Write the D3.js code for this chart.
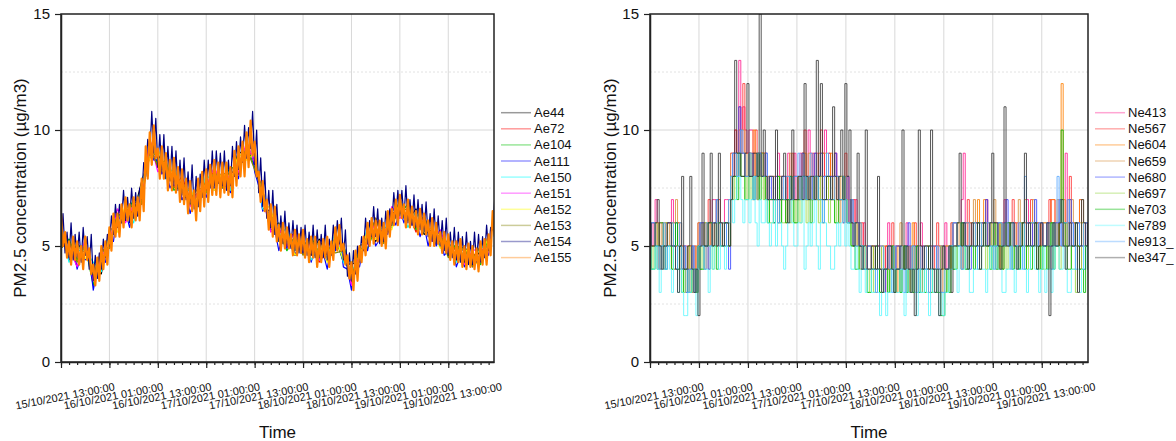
<!DOCTYPE html>
<html>
<head>
<meta charset="utf-8">
<script src="https://cdn.jsdelivr.net/npm/d3@7"></script>
<style>
	body { margin: 0; background: #fff; }
	svg { display: block; font-family: "Liberation Sans", Arial, sans-serif; }
</style>
</head>
<body>
<svg id="chart" width="1176" height="441"></svg>
<script>
// time axis
const startTime = "15/10/2021 13:00:00";
const endTime = "20/10/2021 00:20:00";
const tickLabels = ["15/10/2021 13:00:00", "16/10/2021 01:00:00", "16/10/2021 13:00:00", "17/10/2021 01:00:00",
	"17/10/2021 13:00:00", "18/10/2021 01:00:00", "18/10/2021 13:00:00", "19/10/2021 01:00:00", "19/10/2021 13:00:00"];
const yTicks = [0, 5, 10, 15];
const yMinorGrid = [2.5, 7.5, 12.5];

// left panel, Ae sensors (minutes between samples in aeStep)
const aeNames = ["Ae44", "Ae72", "Ae104", "Ae111", "Ae150", "Ae151", "Ae152", "Ae153", "Ae154", "Ae155"];
const aeColors = ["#000000", "#ff0000", "#00c000", "#0000ff", "#00ffff", "#ff00ff", "#ffff00", "#808000", "#000080", "#ff8000"];
const aeStep = [120, 120, 120, 60, 120, 120, 120, 120, 30, 30];
const ae44 = [5.7,4.4,5.1,4.7,3.9,3.8,5.7,5.8,6.6,6.4, 7.8,8.8,9.0,8.1,8.3,7.0,7.2,6.7,7.9,7.5, 8.2,7.8,9.1,8.8,9.0,6.6,6.5,5.3,5.4,4.6, 5.3,4.6,5.3,4.6,5.4,4.3,4.2,4.4,5.7,5.2, 5.6,5.9,7.0,6.1,6.6,5.5,5.7,5.2,5.2,4.4, 5.0,4.3,4.8,4.7];
const ae72 = [5.1,5.2,4.1,5.1,3.7,4.8,4.9,6.4,6.2,6.6, 6.8,9.6,8.4,8.5,7.5,8.0,7.0,7.3,7.5,8.3, 7.6,8.0,8.1,9.4,8.6,7.4,5.7,5.7,5.2,5.6, 4.7,5.2,4.3,4.8,5.0,5.1,3.4,4.8,5.1,6.2, 5.4,6.5,6.2,6.5,5.6,6.3,5.3,5.4,4.6,5.0, 4.2,4.7,4.4,5.5];
const ae104 = [5.0,5.3,4.4,5.0,3.3,4.7,5.0,6.3,6.3,7.0, 6.9,9.5,8.5,8.7,7.4,7.6,6.8,7.2,7.3,8.2, 7.8,8.4,8.3,9.3,8.4,7.4,5.9,5.6,4.8,5.4, 4.7,5.4,4.7,4.9,4.8,5.1,3.6,4.9,4.9,5.8, 5.2,6.6,6.4,6.8,5.7,6.1,5.4,5.6,4.6,5.1, 4.4,4.7,4.2,5.4];
const ae111 = [4.9,5.1,4.4,5.0,4.0,4.6,4.4,4.6,3.1,4.0, 4.5,4.3,5.2,5.2,6.4,6.0,6.5,5.8,6.5,6.3, 7.5,8.0,9.5,8.7,8.7,8.1,8.4,7.5,7.8,8.0, 7.0,7.3,6.4,7.0,6.7,7.6,7.1,7.8,7.4,8.3, 7.5,7.6,7.3,8.4,7.9,9.1,8.8,9.6,8.2,7.6, 6.5,6.8,5.7,5.7,4.8,5.5,4.9,5.4,4.6,5.0, 4.7,5.2,4.3,4.9,4.4,4.7,4.0,5.1,4.8,5.5, 4.1,4.0,3.1,4.4,4.1,5.1,4.8,5.8,5.0,5.3, 5.7,5.5,6.3,5.9,6.6,6.0,6.6,5.9,6.2,5.4, 5.9,5.0,5.7,5.0,5.4,4.6,4.8,5.0,4.1,4.6, 4.1,4.8,4.1,4.7,4.3,5.0,4.6,6.0];
const ae150 = [5.8,4.3,4.8,4.8,4.3,3.9,5.6,5.9,6.5,6.0, 7.7,8.9,8.9,7.9,8.4,7.4,7.4,6.8,8.1,7.6, 8.0,7.4,8.9,8.9,9.2,6.6,6.3,5.4,5.8,4.8, 5.3,4.4,4.9,4.5,5.6,4.3,4.0,4.3,5.9,5.6, 5.8,5.8,6.8,5.8,6.5,5.7,5.6,5.0,5.2,4.3, 4.8,4.3,5.0,4.8];
const ae151 = [5.2,4.9,4.1,5.3,3.5,4.5,5.2,6.6,6.0,6.8, 7.1,9.6,8.2,8.4,7.6,7.7,6.7,7.3,7.6,8.4, 7.6,8.1,8.2,9.5,8.6,7.1,5.6,5.8,5.0,5.6, 4.9,5.1,4.4,5.1,5.0,5.0,3.3,4.7,5.1,6.1, 5.3,6.7,6.2,6.5,6.0,6.2,5.2,5.7,4.7,4.9, 4.2,4.8,4.9,4.7];
const ae152 = [5.6,4.7,5.1,4.5,4.1,4.1,5.4,5.6,6.8,6.2, 7.5,8.8,9.2,8.2,8.2,7.3,7.5,6.7,7.8,7.4, 8.2,7.7,9.0,8.7,9.0,6.9,6.6,5.2,5.6,4.6, 5.1,4.7,5.2,4.3,5.4,4.4,4.3,4.5,5.7,5.3, 5.7,5.7,7.0,6.1,6.2,5.6,5.8,4.9,5.1,4.5, 5.0,4.2,4.3,5.5];
const ae153 = [4.9,5.2,4.3,5.1,3.7,4.8,4.9,6.4,6.2,6.9, 6.8,9.3,8.4,8.5,7.5,7.8,7.0,7.5,7.4,8.1, 7.5,8.3,8.4,9.2,8.3,7.3,5.8,6.0,5.2,5.3, 4.6,5.3,4.6,5.0,4.7,4.8,3.5,5.0,5.2,6.2, 5.1,6.4,6.5,6.6,5.8,6.3,5.3,5.5,4.5,5.0, 4.9,4.1,5.1,4.9];
const ae154 = [5.1,6.4, 4.7,5.6, 4.5,6.0, 4.4,5.5, 4.5,5.6, 4.3,5.8, 4.6,5.4, 4.0,5.5, 3.5,4.6, 3.6,4.7,
	4.0,5.3, 4.5,5.5, 5.0,6.3, 5.5,6.8, 5.8,6.8, 6.0,7.4, 6.1,7.1, 6.0,7.5, 6.2,7.3, 6.3,7.5,
	7.0,8.6, 8.2,9.6, 8.9,10.8, 9.0,10.5, 8.4,9.8, 8.2,9.8, 7.9,9.3, 7.8,9.3, 7.6,9.1, 7.4,8.7,
	7.2,8.8, 7.0,8.2, 6.8,8.5, 6.6,8.0, 6.7,8.1, 7.1,8.7, 7.4,8.7, 7.5,9.1, 7.6,9.1, 7.7,9.0,
	7.6,9.1, 7.4,8.7, 7.6,9.3, 8.0,9.5, 8.3,9.7, 8.6,10.2, 8.8,10.1, 9.2,10.8, 8.5,10.0, 7.3,8.8,
	6.7,8.2, 6.2,7.4, 5.8,7.4, 5.5,6.8, 5.2,6.3, 5.1,6.5, 5.0,6.0, 4.9,6.1, 4.8,5.9, 4.7,5.8,
	4.7,5.9, 4.6,5.6, 4.6,5.9, 4.5,5.7, 4.5,5.5, 4.5,5.9, 4.4,5.3, 4.6,5.9, 4.9,6.1, 5.1,6.2,
	4.4,5.7, 3.7,4.7, 3.5,4.8, 3.8,5.0, 4.3,5.4, 4.8,6.2, 5.1,6.1, 5.4,6.7, 5.4,6.6, 5.1,6.2,
	5.2,6.5, 5.6,6.6, 5.9,7.3, 6.2,7.4, 6.3,7.4, 6.2,7.6, 6.0,7.0, 5.9,7.2, 5.8,7.0, 5.7,6.8,
	5.6,6.9, 5.4,6.4, 5.2,6.6, 5.1,6.3, 5.0,6.1, 4.8,6.2, 4.6,5.6, 4.5,5.8, 4.4,5.6, 4.3,5.4,
	4.3,5.6, 4.2,5.2, 4.2,5.6, 4.3,5.5, 4.3,5.4, 4.5,5.9, 4.8,5.8, 5.7,7.0];
const ae155 = [6.4,5.0, 5.6,4.5, 5.2,4.2, 5.4,4.4, 5.2,4.2, 5.0,4.0, 5.4,4.4, 4.9,3.8, 4.2,3.3, 4.5,3.5,
	5.0,4.0, 5.2,4.2, 5.8,4.8, 6.4,5.4, 6.4,5.4, 6.8,5.8, 7.1,6.1, 6.8,5.8, 7.1,6.1, 7.1,6.1,
	7.9,6.5, 9.3,7.9, 9.9,8.5, 10.2,8.8, 9.2,7.9, 9.3,7.9, 9.0,7.4, 8.7,7.4, 8.8,7.3, 8.4,6.9,
	8.3,6.8, 7.9,6.4, 7.8,6.5, 7.4,6.1, 7.9,6.5, 8.2,6.7, 8.3,6.9, 8.5,7.2, 8.7,7.2, 8.6,7.1,
	8.6,7.3, 8.6,7.2, 8.4,7.1, 9.1,7.6, 9.3,8.0, 9.5,8.0, 9.9,8.4, 10.4,8.9, 9.5,8.0, 8.2,6.9,
	7.8,6.5, 7.0,5.7, 6.8,5.4, 6.7,5.2, 5.9,4.8, 6.0,4.9, 5.8,4.9, 5.5,4.6, 5.7,4.6, 5.5,4.7,
	5.7,4.5, 5.3,4.3, 5.4,4.5, 5.4,4.1, 5.2,4.3, 5.3,4.5, 5.4,4.1, 5.2,4.4, 5.8,4.8, 5.9,4.8,
	5.1,4.2, 4.6,3.6, 4.3,3.1, 4.8,3.5, 5.0,4.3, 5.4,4.6, 6.0,5.0, 6.2,5.1, 6.1,5.2, 6.1,5.0,
	6.0,4.9, 6.5,5.4, 6.6,5.9, 7.0,5.9, 7.2,6.2, 6.8,5.8, 7.0,5.8, 6.7,5.8, 6.5,5.5, 6.6,5.5,
	6.4,5.5, 6.1,5.0, 6.2,5.0, 6.0,5.1, 5.6,4.7, 5.6,4.7, 5.5,4.4, 5.2,4.2, 5.2,4.3, 5.3,4.1,
	5.0,4.0, 5.1,4.1, 5.0,4.0, 4.9,3.9, 5.2,4.2, 5.3,4.2, 5.5,4.6, 6.5,5.4];

// right panel, Ne sensors, half-hourly integer readings
const neNames = ["Ne413", "Ne567", "Ne604", "Ne659", "Ne680", "Ne697", "Ne703", "Ne789", "Ne913_", "Ne347_"];
const neColors = ["#ff2090", "#ff3030", "#ff8000", "#d89040", "#3848ff", "#98d848", "#00b800", "#60f8ff", "#58a8ff", "#383838"];
const neStep = 30;
const ne413 = [6,5,6,7,5,6,6,5,5,6,6,7,6,5,5,4,4,5,5,4,4,3,5,4, 5,6,6,5,5,6,6,7,7,6,6,5,6,7,7,6,
	9,8,10,9,13,10,11,10,9,10,10,9,8,9,9,8,8,9, 8,7,7,8,8,9,7,8,8,7,9,8,
	8,9,7,8,9,8,8,7,10,9,8,9,9,8,8,7,10,8,9,8,8,9,7,8,8,7,7,8, 7,6,6,7,6,5,5,6,
	5,4,4,5,5,4,4,5,5,4,5,6,4,5,5,4,4,3,5,4,6,5,4,5,5,4,5,6,4,5,5,4,5,4,4,5,5,4,5,6,4,5,
	6,5,5,6,6,7,9,6,6,5,5,6,6,5,5,6,6,7,6,5,5,6,6,5,5,6,7,6,6,5,5,6,6,5,5,6,6,7,6,5,5,6,6,5,
	6,5,5,6,6,7,7,6,6,5,5,6,9,6,6,5,5,6,6,7,5,6,6,5];
const ne567 = [6,5,5,6,6,5,5,4,6,5,5,6,4,5,6,5,5,4,4,5,5,4,4,3, 6,5,5,6,6,7,5,6,6,5,7,6,5,6,6,5,
	8,9,10,9,11,9,12,9,9,8,8,9,10,9,8,9,9,8, 7,8,8,7,7,8,8,7,7,6,8,7,
	9,8,8,7,8,9,10,8,8,7,9,8,7,8,10,9,8,7,9,8,8,9,8,7,7,8,9,8, 6,7,7,6,5,6,6,5,
	4,5,5,4,4,5,5,4,4,3,5,4,5,6,4,5,5,4,4,5,5,4,4,3,6,5,4,5,5,4,4,5,5,4,5,6,4,5,5,4,4,5,
	5,6,6,5,5,4,6,5,7,6,5,6,6,5,5,6,6,7,5,6,6,5,5,4,6,5,5,6,6,5,7,6,5,6,6,5,5,6,6,7,5,6,6,5,
	6,5,5,6,7,6,6,5,5,6,6,5,6,7,8,6,6,5,5,4,6,5,5,6];
const ne604 = [5,6,6,5,5,4,5,6,6,5,5,6,5,4,6,5,4,5,4,3,5,4,4,5, 5,6,5,4,6,5,5,6,6,7,6,5,5,6,6,5,
	8,9,9,8,10,9,9,8,8,9,9,10,8,7,8,9,9,8, 7,8,8,7,7,6,7,8,8,7,7,8,
	8,7,7,8,8,9,9,8,7,8,8,7,8,9,9,8,8,7,8,9,7,8,8,7,7,6,8,7, 6,7,6,5,5,6,5,4,
	5,4,4,5,4,3,5,4,4,5,5,4,4,5,4,3,5,4,4,5,5,4,5,6,4,5,5,4,4,5,4,3,5,4,4,5,5,4,4,5,5,4,
	5,6,6,5,5,4,5,6,6,5,5,6,6,7,5,6,7,6,5,6,6,5,5,4,6,5,5,6,5,6,6,5,5,4,6,5,7,6,5,6,6,5,5,6,
	5,6,6,5,6,7,7,6,5,6,12,7,6,5,7,6,6,5,6,7,5,6,6,5];
const ne659 = [6,5,5,6,5,4,6,5,5,6,5,4,6,7,5,6,5,4,4,5,4,3,5,4, 6,5,5,6,5,4,6,5,6,7,5,6,6,5,6,7,
	9,8,8,9,9,10,10,9,8,9,8,7,9,8,8,9,8,7, 8,7,7,8,7,6,8,7,7,8,8,9,
	7,8,8,7,8,9,8,7,9,8,7,8,8,7,8,9,9,8,8,7,7,8,7,6,8,7,7,8, 7,6,6,5,5,6,5,4,
	4,5,5,4,4,5,4,3,5,4,4,5,5,4,4,5,5,6,4,5,4,3,5,4,4,5,5,4,4,5,5,4,4,5,5,4,4,3,4,5,5,4,
	6,5,5,6,5,4,6,5,5,6,6,7,5,6,6,5,5,6,6,5,6,7,5,6,5,4,6,5,5,6,6,5,6,7,5,6,6,5,5,6,7,6,6,5,
	5,6,6,5,5,4,6,5,7,6,6,5,5,6,6,7,6,5,5,6,7,6,6,5];
const ne680 = [5,6,6,5,4,5,5,4,5,6,6,5,5,6,4,5,4,5,3,4,4,5,4,3, 5,6,6,5,5,4,5,6,6,7,6,5,5,6,5,4,
	8,9,9,8,11,9,9,8,8,9,9,8,8,7,9,8,8,9, 7,8,7,6,8,7,7,8,8,7,7,8,
	7,8,8,7,8,9,7,8,8,7,8,9,7,8,9,8,8,7,7,8,8,9,8,7,7,6,7,8, 6,7,5,6,6,5,5,4,
	4,5,5,4,4,5,5,4,4,3,4,5,5,4,4,5,5,4,4,5,5,6,4,5,5,4,4,3,5,4,4,5,4,5,5,4,4,5,5,4,4,5,
	5,6,6,5,5,6,6,5,5,4,5,6,6,5,5,6,6,7,5,6,6,5,5,6,6,5,6,7,5,6,6,5,5,4,6,5,5,6,6,5,6,7,5,6,
	6,5,5,6,6,5,5,6,6,7,5,6,6,5,7,6,5,6,6,5,5,4,6,5];
const ne697 = [5,4,5,6,4,5,5,4,6,5,5,6,4,5,5,4,4,3,4,5,3,4,4,3, 5,4,5,6,6,5,5,4,5,6,6,5,6,5,5,6,
	8,7,8,9,9,8,8,7,8,9,7,8,8,7,8,9,7,8, 7,6,6,7,7,8,7,6,6,7,7,6,
	7,6,7,8,6,7,7,6,8,7,7,8,7,6,8,7,7,8,6,7,7,6,7,8,8,7,7,6, 6,5,5,6,5,4,4,5,
	4,3,4,5,3,4,4,3,5,4,4,3,4,5,3,4,4,3,5,4,4,3,4,5,3,4,4,3,4,5,5,4,4,3,3,4,4,5,4,3,4,5,
	5,4,5,6,6,5,5,4,4,5,5,6,5,4,6,5,5,4,5,6,4,5,5,4,6,5,5,4,5,6,4,5,5,4,6,5,5,4,5,6,6,5,5,4,
	5,4,4,5,5,6,6,5,5,4,5,6,6,5,5,4,4,3,5,4,6,5,5,4];
const ne703 = [5,4,4,5,5,6,6,5,4,5,5,4,5,6,4,5,3,4,4,3,3,4,4,3, 5,4,4,5,5,6,6,5,5,4,6,5,5,6,6,5,
	7,8,8,7,9,8,8,7,7,8,8,7,8,9,7,8,8,7, 6,7,7,6,7,8,6,7,7,6,7,8,
	7,6,6,7,7,8,8,7,7,6,7,8,8,7,7,6,7,8,8,7,7,6,6,7,7,8,7,6, 6,5,5,4,4,5,5,4,
	4,3,3,4,4,5,4,3,3,4,4,3,4,5,3,4,4,3,4,5,3,4,4,3,4,5,3,4,4,3,4,5,3,4,4,3,3,2,2,3,4,3,
	5,4,4,5,5,6,5,4,4,5,5,4,5,6,4,5,6,5,5,4,5,6,4,5,5,4,5,6,6,5,4,5,5,4,5,6,4,5,5,4,5,6,4,5,
	4,5,5,4,5,6,4,5,5,6,10,6,5,4,4,5,5,6,5,4,4,3,5,4];
const ne789 = [5,4,4,5,4,3,5,4,4,5,4,3,5,4,3,4,3,2,2,3,3,4,3,2, 4,5,5,4,4,3,5,4,5,6,4,5,5,4,5,6,
	7,6,7,8,8,7,6,7,7,6,7,8,6,5,7,6,6,7, 6,5,6,7,5,6,6,5,4,5,6,7,
	6,5,5,6,6,7,4,5,6,5,6,7,5,4,6,7,6,5,5,4,4,5,6,5,6,7,5,6, 5,4,4,5,4,3,4,5,
	3,4,4,3,3,4,3,2,4,3,2,3,3,4,4,3,3,4,3,2,4,3,3,4,3,2,4,3,3,4,3,2,4,3,3,4,2,3,2,3,3,4,
	4,5,4,3,5,4,4,5,4,3,3,4,4,5,5,4,4,3,4,5,4,5,5,4,4,3,3,4,4,5,4,3,5,4,4,5,4,3,4,5,5,4,4,3,
	4,5,3,4,4,3,4,5,5,4,4,5,4,3,3,4,4,5,4,3,4,5,5,4];
const ne913 = [5,6,6,5,5,4,5,6,4,5,5,6,5,4,5,6,4,5,4,3,4,5,3,4, 5,6,5,4,6,5,5,6,6,7,5,6,6,5,6,7,
	8,9,9,8,9,10,9,8,8,9,8,7,8,9,9,8,8,9, 7,8,8,7,7,6,7,8,7,8,8,7,
	7,8,8,9,7,8,8,7,8,9,7,8,8,7,7,6,8,9,8,7,7,8,8,7,7,8,7,6, 6,7,6,5,5,6,5,4,
	4,5,5,4,4,3,4,5,5,4,4,5,4,3,5,4,4,5,4,3,5,4,4,5,4,3,5,4,4,5,4,3,5,4,4,5,4,3,3,4,4,5,
	5,6,6,5,5,4,5,6,6,5,5,6,5,4,6,5,5,6,6,5,5,4,5,6,6,5,5,6,5,4,6,5,5,6,5,4,8,6,5,6,6,5,5,6,
	6,5,5,6,5,4,6,5,8,6,5,6,6,7,5,6,5,4,6,5,5,6,6,5];
const ne347 = [6,5,5,6,7,5,4,5,5,6,6,5,5,4,3,5,8,4,4,5,8,4,3,4, 2,5,9,5,5,6,9,5,6,5,9,6,5,6,6,5,
	7,8,13,9,9,8,8,9,12,8,8,9,9,8,15,8,10,8, 7,8,8,7,10,7,7,8,9,7,6,7,
	10,7,7,8,8,7,12,8,7,8,8,7,13,8,12,7,7,8,8,7,11,8,7,8,10,7,12,8, 10,6,5,6,9,5,4,5,
	10,4,4,5,5,4,8,4,3,4,4,5,5,4,3,4,4,5,10,4,5,4,3,4,2,4,10,5,4,5,5,4,10,4,3,4,2,4,5,4,4,5,
	3,5,5,6,9,5,6,5,4,5,6,5,5,6,4,5,6,5,5,6,9,6,6,5,4,5,11,5,5,6,6,5,4,5,5,6,9,5,6,5,5,6,4,5,
	6,5,5,6,2,5,6,5,5,6,7,5,4,5,6,5,5,6,3,5,7,6,5,6];

const parseTime = d3.timeParse("%d/%m/%Y %H:%M:%S");
const t0 = parseTime(startTime);

class TimeChart {
	constructor(_config, _data) {
		this.config = {
			parentElement: _config.parentElement,
			id: _config.id,
			left: _config.left,
			right: _config.right,
			top: 14,
			bottom: 362,
			legendX: _config.legendX,
			yTitleX: _config.yTitleX,
			curve: _config.curve || d3.curveLinear,
			lineWidth: _config.lineWidth || (() => 1),
			lineOpacity: _config.lineOpacity || 1
		};
		this.data = _data;
		this.initVis();
	}

	initVis() {
		let vis = this;
		let c = vis.config;

		vis.svg = d3.select(c.parentElement);
		vis.g = vis.svg.append("g");

		vis.x = d3.scaleTime()
			.domain([t0, parseTime(endTime)])
			.range([c.left, c.right]);
		vis.y = d3.scaleLinear()
			.domain([0, 15])
			.range([c.bottom, c.top]);

		vis.majors = tickLabels.map(parseTime);
		vis.minors = d3.range(0, 108, 2).map(h => d3.timeHour.offset(t0, h));

		// grid
		vis.g.append("g").selectAll("line")
			.data(vis.majors.slice(1))
			.join("line")
			.attr("x1", d => vis.x(d)).attr("x2", d => vis.x(d))
			.attr("y1", c.top).attr("y2", c.bottom)
			.attr("stroke", "#d8d8d8").attr("stroke-width", 1);
		vis.g.append("g").selectAll("line")
			.data([5, 10])
			.join("line")
			.attr("x1", c.left).attr("x2", c.right)
			.attr("y1", d => vis.y(d)).attr("y2", d => vis.y(d))
			.attr("stroke", "#d8d8d8").attr("stroke-width", 1);
		vis.g.append("g").selectAll("line")
			.data(yMinorGrid)
			.join("line")
			.attr("x1", c.left).attr("x2", c.right)
			.attr("y1", d => vis.y(d)).attr("y2", d => vis.y(d))
			.attr("stroke", "#e2e2e2").attr("stroke-width", 1)
			.attr("stroke-dasharray", "2,2");

		vis.svg.append("defs").append("clipPath")
			.attr("id", "clip-" + c.id)
			.append("rect")
			.attr("x", c.left).attr("y", c.top)
			.attr("width", c.right - c.left).attr("height", c.bottom - c.top);

		vis.line = d3.line()
			.x(d => vis.x(d.t))
			.y(d => vis.y(d.v))
			.curve(c.curve);

		vis.g.append("g")
			.attr("clip-path", `url(#clip-${c.id})`)
			.selectAll("path")
			.data(vis.data)
			.join("path")
			.attr("fill", "none")
			.attr("stroke", d => d.color)
			.attr("stroke-width", (d, i) => c.lineWidth(i))
			.attr("stroke-opacity", c.lineOpacity)
			.attr("stroke-linejoin", "round")
			.attr("d", d => vis.line(d.values.map((v, i) => ({t: d3.timeMinute.offset(t0, i * d.step), v: v}))));

		// frame
		vis.g.append("rect")
			.attr("x", c.left).attr("y", c.top)
			.attr("width", c.right - c.left).attr("height", c.bottom - c.top)
			.attr("fill", "none").attr("stroke", "#222").attr("stroke-width", 1.5);

		// x axis
		vis.xMinor = vis.g.append("g")
			.attr("transform", `translate(0,${c.bottom})`)
			.call(d3.axisBottom(vis.x).tickValues(vis.minors).tickSize(3).tickFormat(""));
		vis.xMinor.select(".domain").remove();

		vis.xAxis = vis.g.append("g")
			.attr("transform", `translate(0,${c.bottom})`)
			.call(d3.axisBottom(vis.x).tickValues(vis.majors).tickSize(6).tickSizeOuter(0)
				.tickFormat((d, i) => tickLabels[i]));
		vis.xAxis.select(".domain").attr("stroke-width", 1.5).attr("stroke", "#222");
		vis.xAxis.selectAll("text")
			.attr("y", 0).attr("dy", "0.35em")
			.attr("text-anchor", "middle")
			.attr("font-size", 11)
			.attr("fill", "#111")
			.attr("transform", "translate(3.5,34) rotate(-11)");
		vis.g.selectAll(".tick line").attr("stroke", "#222").attr("stroke-width", 1.2);

		// y axis
		vis.yAxis = vis.g.append("g")
			.attr("transform", `translate(${c.left},0)`)
			.call(d3.axisLeft(vis.y).tickValues(yTicks).tickSize(6).tickPadding(5).tickSizeOuter(0));
		vis.yAxis.select(".domain").attr("stroke-width", 1.5).attr("stroke", "#222");
		vis.yAxis.selectAll("text").attr("font-size", 15).attr("fill", "#111");
		vis.yAxis.selectAll(".tick line").attr("stroke", "#222").attr("stroke-width", 1.2);

		// titles
		vis.g.append("text")
			.attr("transform", `translate(${c.yTitleX},188) rotate(-90)`)
			.attr("text-anchor", "middle")
			.attr("dominant-baseline", "central")
			.attr("font-size", 17)
			.attr("fill", "#111")
			.text("PM2.5 concentration (µg/m3)");
		vis.g.append("text")
			.attr("x", (c.left + c.right) / 2)
			.attr("y", 438)
			.attr("text-anchor", "middle")
			.attr("font-size", 17)
			.attr("fill", "#111")
			.text("Time");

		// legend
		vis.legend = vis.g.append("g").selectAll("g")
			.data(vis.data)
			.join("g")
			.attr("transform", (d, i) => `translate(${c.legendX},${112.7 + i * 16.1})`);
		vis.legend.append("line")
			.attr("x1", 0).attr("x2", 30)
			.attr("stroke", d => d.color)
			.attr("stroke-opacity", 0.4)
			.attr("stroke-width", 1.5);
		vis.legend.append("text")
			.attr("x", 33)
			.attr("dominant-baseline", "central")
			.attr("font-size", 13)
			.attr("fill", "#111")
			.text(d => d.name);
	}
}

const aeValues = [ae44, ae72, ae104, ae111, ae150, ae151, ae152, ae153, ae154, ae155];
const neValues = [ne413, ne567, ne604, ne659, ne680, ne697, ne703, ne789, ne913, ne347];

new TimeChart({
	parentElement: "#chart", id: "ae", left: 61, right: 494, legendX: 501, yTitleX: 20,
	lineWidth: i => i === 9 ? 2.2 : 1.2
}, aeNames.map((n, i) => ({name: n, color: aeColors[i], step: aeStep[i], values: aeValues[i]})));

new TimeChart({
	parentElement: "#chart", id: "ne", left: 650, right: 1088, legendX: 1095, yTitleX: 610,
	curve: d3.curveStep, lineWidth: () => 1, lineOpacity: 0.85
}, neNames.map((n, i) => ({name: n, color: neColors[i], step: neStep, values: neValues[i]})));
</script>
</body>
</html>
